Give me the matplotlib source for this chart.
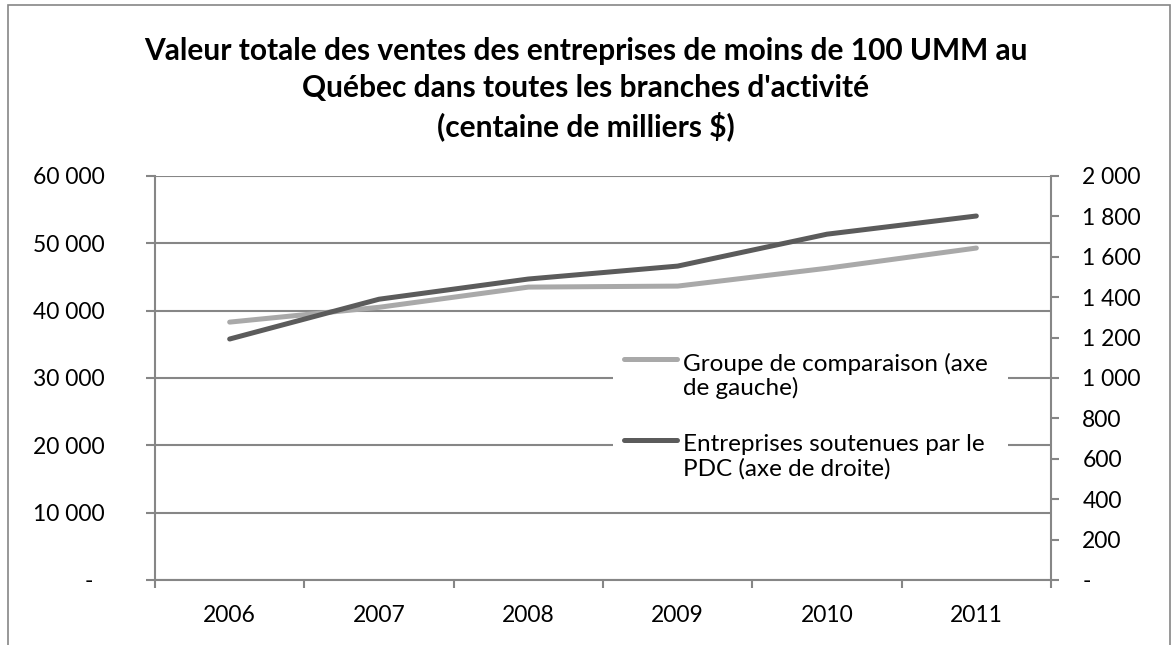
import matplotlib
matplotlib.use('Agg')
import matplotlib.pyplot as plt
from matplotlib.patches import Rectangle
from matplotlib.lines import Line2D
from matplotlib.ticker import FuncFormatter
from matplotlib.transforms import ScaledTranslation

plt.rcParams['font.family'] = ['Lato', 'DejaVu Sans']

years = ['2006', '2007', '2008', '2009', '2010', '2011']
comparaison = [38300, 40500, 43500, 43650, 46300, 49300]  # axe de gauche
pdc = [1193, 1390, 1490, 1554, 1712, 1802]  # axe de droite

title = ("Valeur totale des ventes des entreprises de moins de 100 UMM au\n"
         "Québec dans toutes les branches d'activité\n"
         "(centaine de milliers $)")
label_comp = "Groupe de comparaison (axe\nde gauche)"
label_pdc = "Entreprises soutenues par le\nPDC (axe de droite)"

GRID = '#868686'
LIGHT = '#A9A9A9'
DARK = '#5B5B5B'
W, H = 1172, 645


def fx(px):
    return px / W


def fy(py):
    return 1 - py / H


def fmt_space(v, pos):
    if v == 0:
        return '-'
    return '{:,.0f}'.format(v).replace(',', ' ')


fig = plt.figure(figsize=(W / 100, H / 100), dpi=100)
fig.add_artist(Rectangle((fx(8), fy(660)), fx(1170) - fx(8), fy(5) - fy(660),
                         transform=fig.transFigure, fill=False,
                         edgecolor=GRID, linewidth=1.2))

ax = fig.add_axes([fx(155), fy(580), fx(1051) - fx(155), fy(176) - fy(580)])
ax2 = ax.twinx()

x = list(range(len(years)))
ax.plot(x, comparaison, color=LIGHT, linewidth=3.6, solid_capstyle='round')
ax2.plot(x, pdc, color=DARK, linewidth=3.6, solid_capstyle='round')

ax.set_xlim(-0.5, 5.5)
ax.set_ylim(0, 60000)
ax2.set_ylim(0, 2000)
ax.set_yticks(range(0, 60001, 10000))
ax2.set_yticks(range(0, 2001, 200))
ax.yaxis.set_major_formatter(FuncFormatter(fmt_space))
ax2.yaxis.set_major_formatter(FuncFormatter(fmt_space))

ax.set_xticks(x)
ax.set_xticklabels(years)
ax.set_xticks([i - 0.5 for i in range(len(years) + 1)], minor=True)
ax.tick_params(axis='x', which='major', length=0, pad=18, labelsize=16.5)
ax.tick_params(axis='x', which='minor', length=6, width=1.5, color=GRID)
ax.tick_params(axis='y', length=6.5, width=1.5, color=GRID, labelsize=16.5, pad=29.5)
ax2.tick_params(axis='y', length=6, width=1.5, color=GRID, labelsize=16.5, pad=16.5)

# accounting-style dash for zero sits left of the right edge
zero_lab = ax.get_yticklabels()[0]
zero_lab.set_transform(zero_lab.get_transform() +
                       ScaledTranslation(-0.12, 0, fig.dpi_scale_trans))

ax.grid(axis='y', color=GRID, linewidth=1.5)
for a in (ax, ax2):
    for s in a.spines.values():
        s.set_visible(False)
for s in (ax.spines['left'], ax.spines['bottom'], ax2.spines['right']):
    s.set_visible(True)
    s.set_color(GRID)
    s.set_linewidth(1.5)

# legend drawn inside the plot area, Excel style
fig.add_artist(Rectangle((fx(613), fy(505)), fx(1008) - fx(613), fy(330) - fy(505),
                         transform=fig.transFigure, facecolor='white',
                         edgecolor='none', zorder=5))
fig.add_artist(Line2D([fx(624), fx(677)], [fy(359), fy(359)], color=LIGHT,
                      linewidth=3.6, solid_capstyle='round',
                      transform=fig.transFigure, zorder=6))
fig.add_artist(Line2D([fx(624), fx(677)], [fy(440), fy(440)], color=DARK,
                      linewidth=3.6, solid_capstyle='round',
                      transform=fig.transFigure, zorder=6))
fig.text(fx(683), fy(376), label_comp, ha='left', va='center',
         fontsize=17.5, linespacing=1.15, zorder=7)
fig.text(fx(683), fy(457), label_pdc, ha='left', va='center',
         fontsize=17.5, linespacing=1.15, zorder=7)

fig.text(0.5, fy(89), title, ha='center', va='center',
         fontsize=21.5, fontweight='bold', linespacing=1.37)

fig.savefig('out.png', dpi=100)
